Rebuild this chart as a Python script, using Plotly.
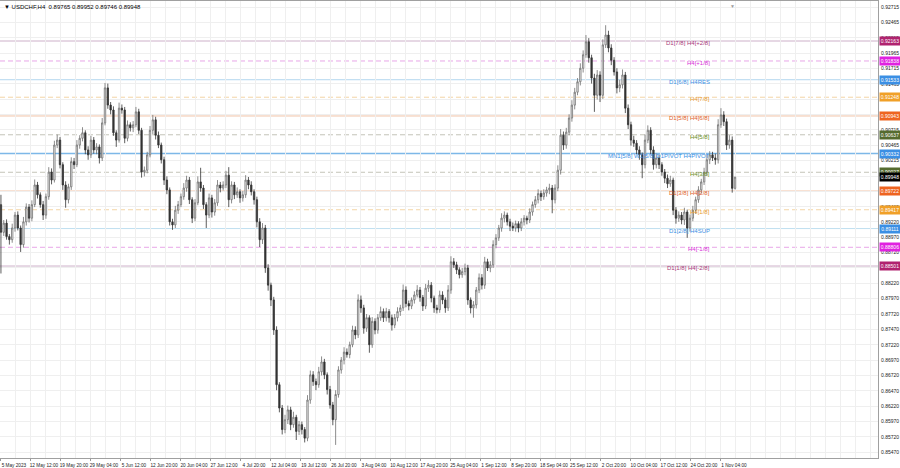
import plotly.graph_objects as go

# ---------------- data ----------------
symbol_title = "USDCHF,H4"
last_ohlc = [0.89765, 0.89952, 0.89746, 0.89948]

first_open = 0.8950
close = [
    0.8905, 0.8920, 0.8898, 0.8893, 0.8912, 0.8933, 0.8912, 0.8885, 0.8922, 0.8946,
    0.8928, 0.8950, 0.8982, 0.8966, 0.8950, 0.8933, 0.8963, 0.9003, 0.8990, 0.9047,
    0.9055, 0.9015, 0.8982, 0.8958, 0.8979, 0.9020, 0.9015, 0.9047, 0.9058, 0.9067,
    0.9039, 0.9031, 0.9055, 0.9039, 0.9044, 0.9026, 0.9083, 0.9140, 0.9112, 0.9104,
    0.9067, 0.9055, 0.9107, 0.9104, 0.9058, 0.9080, 0.9075, 0.9080, 0.9101, 0.9071,
    0.9003, 0.9006, 0.9031, 0.9071, 0.9088, 0.9063, 0.9047, 0.9023, 0.8990, 0.8974,
    0.8922, 0.8917, 0.8941, 0.8950, 0.8963, 0.8977, 0.8990, 0.8958, 0.8928, 0.8953,
    0.8987, 0.8977, 0.8950, 0.8933, 0.8961, 0.8938, 0.8953, 0.8982, 0.8977, 0.8982,
    0.8998, 0.8958, 0.8982, 0.8966, 0.8971, 0.8961, 0.8966, 0.8990, 0.8982, 0.8971,
    0.8958, 0.8922, 0.8893, 0.8912, 0.8847, 0.8819, 0.8795, 0.8746, 0.8657, 0.8619,
    0.8584, 0.8600, 0.8616, 0.8592, 0.8604, 0.8581, 0.8592, 0.8584, 0.8570, 0.8632,
    0.8673, 0.8662, 0.8657, 0.8678, 0.8694, 0.8673, 0.8649, 0.8624, 0.8600, 0.8641,
    0.8681, 0.8697, 0.8710, 0.8706, 0.8722, 0.8746, 0.8738, 0.8795, 0.8782, 0.8749,
    0.8766, 0.8722, 0.8760, 0.8746, 0.8766, 0.8776, 0.8766, 0.8776, 0.8766, 0.8754,
    0.8766, 0.8776, 0.8782, 0.8811, 0.8789, 0.8785, 0.8795, 0.8803, 0.8811, 0.8799,
    0.8785, 0.8814, 0.8819, 0.8798, 0.8782, 0.8779, 0.8803, 0.8795, 0.8782, 0.8811,
    0.8857, 0.8852, 0.8844, 0.8836, 0.8841, 0.8847, 0.8795, 0.8782, 0.8787, 0.8811,
    0.8831, 0.8819, 0.8857, 0.8847, 0.8852, 0.8885, 0.8896, 0.8912, 0.8928, 0.8933,
    0.8922, 0.8915, 0.8912, 0.8919, 0.8912, 0.8922, 0.8928, 0.8925, 0.8938, 0.8950,
    0.8958, 0.8968, 0.8963, 0.8969, 0.8974, 0.8977, 0.8958, 0.8977, 0.9006, 0.9063,
    0.9047, 0.9068, 0.9091, 0.9112, 0.9133, 0.9150, 0.9172, 0.9194, 0.9215, 0.9189,
    0.9156, 0.9128, 0.9161, 0.9128, 0.9210, 0.9226, 0.9205, 0.9185, 0.9166, 0.9140,
    0.9145, 0.9161, 0.9107, 0.9080, 0.9055, 0.9050, 0.9039, 0.9031, 0.9015, 0.9055,
    0.9071, 0.9039, 0.9015, 0.9026, 0.9015, 0.9003, 0.8993, 0.8984, 0.8990, 0.8941,
    0.8928, 0.8933, 0.8925, 0.8938, 0.8912, 0.8928, 0.8941, 0.8958, 0.8974, 0.8987,
    0.9003, 0.9023, 0.9031, 0.9026, 0.9023, 0.9080, 0.9096, 0.9085, 0.9047, 0.9055,
    0.89765, 0.89948,
]
upper_wick_pips = [
    16, 5, 6, 4, 7, 5, 6, 4, 8, 6,
    5, 7, 9, 5, 4, 6, 5, 8, 6, 7,
    9, 5, 4, 6, 5, 7, 6, 8, 5, 9,
    4, 6, 7, 5, 6, 4, 8, 8, 7, 5,
    6, 4, 9, 6, 5, 7, 4, 6, 8, 5,
    4, 6, 5, 7, 8, 5, 6, 4, 5, 6,
    4, 5, 7, 6, 5, 8, 7, 5, 4, 6,
    9, 23, 5, 4, 7, 5, 6, 8, 5, 6,
    7, 13, 6, 5, 7, 4, 6, 8, 5, 6,
    4, 5, 6, 8, 5, 6, 4, 5, 6, 4,
    5, 8, 7, 5, 9, 4, 6, 5, 4, 8,
    7, 6, 5, 8, 9, 5, 4, 6, 5, 7,
    6, 5, 8, 6, 5, 7, 6, 9, 7, 5,
    6, 4, 7, 5, 6, 8, 5, 6, 4, 5,
    6, 7, 5, 9, 6, 5, 4, 6, 8, 5,
    4, 7, 8, 5, 4, 5, 7, 6, 4, 8,
    9, 6, 5, 4, 6, 7, 5, 4, 6, 5,
    7, 6, 8, 5, 6, 7, 6, 5, 8, 6,
    4, 5, 6, 5, 4, 6, 5, 4, 6, 5,
    6, 7, 5, 6, 5, 7, 5, 6, 8, 10,
    6, 7, 6, 8, 7, 6, 8, 7, 11, 6,
    5, 7, 8, 6, 9, 16, 7, 6, 5, 6,
    8, 9, 5, 6, 5, 7, 5, 6, 4, 9,
    8, 5, 6, 7, 5, 4, 5, 6, 7, 4,
    5, 6, 5, 7, 4, 6, 7, 5, 6, 5,
    7, 8, 6, 5, 7, 9, 11, 6, 5, 8,
    6, 0.4,
]
lower_wick_pips = [
    67, 6, 5, 8, 5, 6, 4, 12, 5, 6,
    7, 5, 4, 6, 5, 8, 6, 5, 7, 4,
    5, 6, 8, 13, 6, 5, 7, 4, 6, 5,
    7, 8, 5, 6, 7, 9, 5, 4, 6, 7,
    5, 11, 4, 6, 8, 5, 6, 7, 4, 6,
    9, 7, 5, 4, 6, 7, 5, 6, 8, 7,
    6, 8, 5, 6, 4, 5, 6, 7, 8, 5,
    4, 6, 7, 21, 5, 9, 6, 5, 7, 4,
    5, 12, 6, 7, 5, 8, 6, 5, 7, 6,
    8, 9, 12, 7, 8, 9, 10, 8, 9, 7,
    8, 6, 7, 9, 5, 14, 6, 8, 7, 5,
    6, 7, 9, 5, 6, 7, 8, 6, 9, 41,
    5, 6, 7, 5, 6, 4, 7, 5, 8, 9,
    6, 13, 5, 7, 6, 5, 7, 6, 8, 9,
    5, 6, 7, 5, 6, 7, 5, 6, 4, 7,
    8, 5, 6, 7, 8, 6, 5, 7, 8, 5,
    6, 5, 7, 6, 5, 6, 8, 9, 16, 6,
    5, 7, 6, 5, 7, 5, 6, 5, 6, 7,
    6, 8, 5, 6, 7, 5, 6, 7, 5, 6,
    5, 6, 7, 5, 6, 7, 22, 6, 5, 7,
    8, 6, 5, 6, 7, 5, 6, 7, 5, 8,
    9, 27, 7, 11, 6, 5, 7, 8, 6, 9,
    7, 6, 8, 7, 9, 6, 7, 8, 22, 6,
    5, 7, 8, 6, 7, 6, 8, 7, 5, 8,
    9, 6, 7, 8, 16, 6, 5, 6, 5, 6,
    5, 6, 7, 5, 8, 6, 5, 7, 8, 6,
    7, 1.9,
]

bars_per_candle = 3       # each drawn candle spans 3 H4 bars
bars_per_label = 32       # H4 bars between date labels
date_labels = [
    "5 May 2023", "12 May 12:00", "19 May 20:00", "29 May 04:00", "5 Jun 12:00",
    "12 Jun 20:00", "20 Jun 04:00", "27 Jun 12:00", "4 Jul 20:00", "12 Jul 04:00",
    "19 Jul 12:00", "26 Jul 20:00", "3 Aug 04:00", "10 Aug 12:00", "17 Aug 20:00",
    "25 Aug 04:00", "1 Sep 12:00", "8 Sep 20:00", "18 Sep 04:00", "25 Sep 12:00",
    "2 Oct 20:00", "10 Oct 04:00", "17 Oct 12:00", "24 Oct 20:00", "1 Nov 04:00",
]

price_ticks = [
    0.92715, 0.92465, 0.92215, 0.91965, 0.91715, 0.91465, 0.91215, 0.90965,
    0.90715, 0.90465, 0.90215, 0.89965, 0.89715, 0.89465, 0.89220, 0.88970,
    0.88720, 0.88470, 0.88220, 0.87970, 0.87720, 0.87470, 0.87220, 0.86970,
    0.86720, 0.86470, 0.86220, 0.85970, 0.85720, 0.85470,
]

level_prices = [0.92163, 0.91838, 0.91533, 0.91248, 0.90943, 0.90637, 0.90332,
                0.90027, 0.89722, 0.89417, 0.89111, 0.88806, 0.88501]
level_names = ["D1[7/8] H4[+2/8]", "H4[+1/8]", "D1[6/8] H4RES", "H4[7/8]",
               "D1[5/8] H4[6/8]", "H4[5/8]", "MN1[5/8] W1[5/8] D1PIVOT H4PIVOT",
               "H4[3/8]", "D1[3/8] H4[2/8]", "H4[1/8]", "D1[2/8] H4SUP",
               "H4[-1/8]", "D1[1/8] H4[-2/8]"]

# ---------------- styles ----------------
level_line_colors = ["#cdb0c9", "#e8a6e8", "#b2d7ef", "#f3d5a6", "#f0c2a6", "#c4c4b8",
                     "#7db8e8", "#c4c4b8", "#f0c2a6", "#f3d5a6", "#bfdff0", "#e8a6e8",
                     "#cdb0c9"]
level_dash = ["solid", "5px,3px", "solid", "5px,3px", "solid", "5px,3px", "solid",
              "5px,3px", "solid", "5px,3px", "solid", "5px,3px", "solid"]
level_widths = [1, 1, 1, 1, 1, 1, 1.5, 1, 1, 1, 1, 1, 1]
level_box_colors = ["#b0236f", "#e022e0", "#3b8fe4", "#f0a028", "#ee6420", "#556b2f",
                    "#3b8fe4", "#556b2f", "#ee6420", "#f0a028", "#3b8fe4", "#e022e0",
                    "#b0236f"]
level_text_colors = ["#a8387a", "#d830d8", "#3b8fe4", "#e89a30", "#e0602a", "#6b8e23",
                     "#3b8fe4", "#6b8e23", "#e0602a", "#e89a30", "#3b8fe4", "#d830d8",
                     "#a8387a"]
FONT = "Liberation Sans"

# ---------------- derived ----------------
opens = [first_open] + close[:-1]
highs = [max(o, c) + u / 10000 for o, c, u in zip(opens, close, upper_wick_pips)]
lows = [min(o, c) - d / 10000 for o, c, d in zip(opens, close, lower_wick_pips)]
bar_index = [i * bars_per_candle for i in range(len(close))]
label_bars = [k * bars_per_label for k in range(len(date_labels))]

fig = go.Figure()
fig.add_trace(go.Candlestick(
    x=bar_index, open=opens, high=highs, low=lows, close=close,
    increasing=dict(line=dict(color="#6e6e6e", width=0.8), fillcolor="#ffffff"),
    decreasing=dict(line=dict(color="#333333", width=0.8), fillcolor="#333333"),
    whiskerwidth=0, showlegend=False, hoverinfo="skip",
))

shapes = []
annotations = []
for p, name, lc, dash, lw, bc, tc in zip(level_prices, level_names, level_line_colors,
                                          level_dash, level_widths, level_box_colors,
                                          level_text_colors):
    shapes.append(dict(type="line", xref="paper", x0=0, x1=1, yref="y", y0=p, y1=p,
                       line=dict(color=lc, width=lw, dash=dash), layer="below"))
    annotations.append(dict(xref="paper", x=0.811, yref="y", y=p, yshift=-2,
                            text=name, showarrow=False,
                            font=dict(family=FONT, size=6, color=tc)))
    annotations.append(dict(xref="paper", x=1, xanchor="left", xshift=1, yref="y", y=p,
                            text=f"{p:.5f}", showarrow=False, bgcolor=bc, width=20,
                            height=8, borderpad=0,
                            font=dict(family=FONT, size=5, color="#ffffff")))

# current price box
annotations.append(dict(xref="paper", x=1, xanchor="left", xshift=1, yref="y",
                        y=last_ohlc[3], text=f"{last_ohlc[3]:.5f}", showarrow=False,
                        bgcolor="#000000", width=20, height=8, borderpad=0,
                        font=dict(family=FONT, size=5, color="#ffffff")))
# title
annotations.append(dict(xref="paper", x=0, xanchor="left", xshift=2, yref="paper", y=1,
                        yanchor="top", yshift=-1,
                        text="▼ " + symbol_title + "  " + " ".join(f"{v:.5f}" for v in last_ohlc),
                        showarrow=False, font=dict(family=FONT, size=6, color="#000000")))
# chart shift marker
annotations.append(dict(xref="paper", x=0.839, yref="paper", y=1, yanchor="top",
                        text="▼", showarrow=False, font=dict(family=FONT, size=5, color="#9a9a9a")))

fig.update_layout(
    width=900, height=468,
    margin=dict(l=0, r=22, t=1, b=10),
    paper_bgcolor="#ffffff", plot_bgcolor="#ffffff",
    shapes=shapes, annotations=annotations,
    xaxis=dict(
        range=[-1, 935.5], rangeslider=dict(visible=False),
        tickvals=label_bars, ticktext=date_labels, ticklabelshift=13, tickangle=0,
        ticklabelstandoff=0,
        tickfont=dict(family=FONT, size=4.7, color="#222222"),
        ticks="outside", ticklen=2, tickcolor="#999999",
        showgrid=True, gridcolor="#efefef", gridwidth=1,
        minor=dict(dtick=bars_per_label // 2, tick0=0, showgrid=True, gridcolor="#efefef"),
        showline=True, linecolor="#a0a0a0", mirror=True, zeroline=False,
    ),
    yaxis=dict(
        side="right", range=[0.85377, 0.92814],
        tickvals=price_ticks, ticktext=[f"{v:.5f}" for v in price_ticks],
        tickfont=dict(family=FONT, size=5, color="#222222"),
        ticks="", ticklabelstandoff=1,
        showgrid=True, gridcolor="#efefef", gridwidth=1,
        showline=True, linecolor="#a0a0a0", mirror=True, zeroline=False,
    ),
)

fig.write_html("out.html", config={"displayModeBar": False},
               post_script="document.body.style.margin='0px';document.body.style.overflow='hidden';")
